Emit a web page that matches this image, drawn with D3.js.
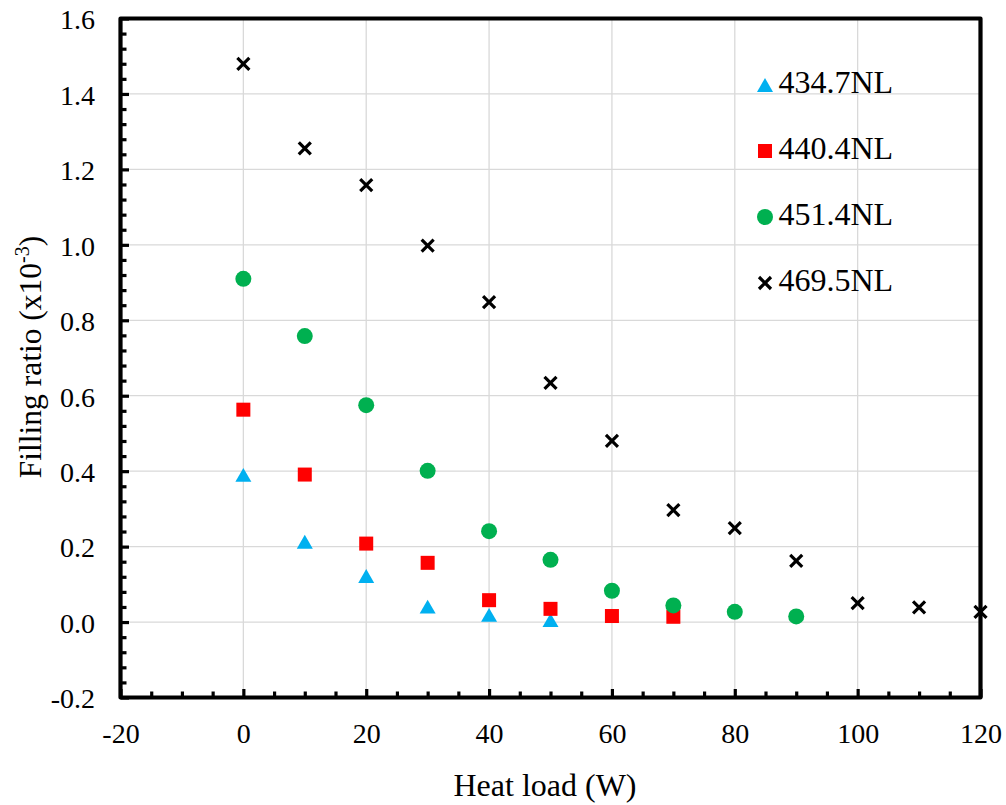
<!DOCTYPE html>
<html>
<head>
<meta charset="utf-8">
<script src="https://cdn.jsdelivr.net/npm/d3@7"></script>
<style>
  html, body { margin: 0; padding: 0; background: #fff; }
  text { font-family: "Liberation Serif", "Times New Roman", serif; fill: #000; }
</style>
</head>
<body>
<svg id="chart" width="1006" height="805"></svg>
<script>
// ---- data ----
const heatLoad = [0, 10, 20, 30, 40, 50, 60, 70, 80, 90, 100, 110, 120];
const seriesNames = ["434.7NL", "440.4NL", "451.4NL", "469.5NL"];
const s434 = [0.390, 0.213, 0.122, 0.041, 0.019, 0.005];
const s440 = [0.563, 0.391, 0.208, 0.157, 0.058, 0.035, 0.016, 0.014];
const s451 = [0.910, 0.758, 0.575, 0.401, 0.241, 0.165, 0.083, 0.044, 0.027, 0.015];
const s469 = [1.480, 1.256, 1.158, 0.998, 0.848, 0.634, 0.480, 0.297, 0.249, 0.162, 0.050, 0.039, 0.027];
const xTicks = [-20, 0, 20, 40, 60, 80, 100, 120];
const yTicks = [-0.2, 0.0, 0.2, 0.4, 0.6, 0.8, 1.0, 1.2, 1.4, 1.6];
const xTickLabels = ["-20", "0", "20", "40", "60", "80", "100", "120"];
const yTickLabels = ["-0.2", "0.0", "0.2", "0.4", "0.6", "0.8", "1.0", "1.2", "1.4", "1.6"];
const xMinor = [-15, -10, -5, 5, 10, 15, 25, 30, 35, 45, 50, 55, 65, 70, 75, 85, 90, 95, 105, 110, 115];
const yMinor = [-0.16, -0.12, -0.08, -0.04, 0.04, 0.08, 0.12, 0.16, 0.24, 0.28, 0.32, 0.36,
  0.44, 0.48, 0.52, 0.56, 0.64, 0.68, 0.72, 0.76, 0.84, 0.88, 0.92, 0.96, 1.04, 1.08, 1.12, 1.16,
  1.24, 1.28, 1.32, 1.36, 1.44, 1.48, 1.52, 1.56];

const series = [
  { name: seriesNames[0], values: s434, shape: "triangle", color: "#00B0F0" },
  { name: seriesNames[1], values: s440, shape: "square", color: "#FF0000" },
  { name: seriesNames[2], values: s451, shape: "circle", color: "#00B050" },
  { name: seriesNames[3], values: s469, shape: "cross", color: "#000000" }
];

// ---- layout ----
const svg = d3.select("#chart");
const x = d3.scaleLinear().domain([-20, 120]).range([120.5, 980.5]);
const y = d3.scaleLinear().domain([-0.2, 1.6]).range([697.5, 18.5]);

// gridlines
const grid = svg.append("g");
grid.selectAll("line.v").data(xTicks.slice(1, -1)).join("line")
  .attr("x1", d => x(d)).attr("x2", d => x(d))
  .attr("y1", y(1.6)).attr("y2", y(-0.2))
  .attr("stroke", "#d9d9d9").attr("stroke-width", 1.3);
grid.selectAll("line.h").data(yTicks.slice(1, -1)).join("line")
  .attr("y1", d => y(d)).attr("y2", d => y(d))
  .attr("x1", x(-20)).attr("x2", x(120))
  .attr("stroke", "#d9d9d9").attr("stroke-width", 1.3);

// axes (ticks pointing inward)
const axisStyle = g => {
  g.select(".domain").remove();
  g.selectAll(".tick line").attr("stroke", "#000").attr("stroke-width", 3.2);
};
svg.append("g").attr("transform", `translate(0,${y(-0.2)})`)
  .call(d3.axisBottom(x).tickValues(xMinor).tickSize(-6).tickFormat(""))
  .call(axisStyle);
svg.append("g").attr("transform", `translate(0,${y(-0.2)})`)
  .call(d3.axisBottom(x).tickValues(xTicks).tickSize(-8.5).tickPadding(0)
    .tickFormat((d, i) => xTickLabels[i]))
  .call(axisStyle)
  .call(g => g.selectAll(".tick text").attr("font-size", 28).attr("dy", null)
    .attr("y", 45).attr("font-family", "Liberation Serif"));
svg.append("g").attr("transform", `translate(${x(-20)},0)`)
  .call(d3.axisLeft(y).tickValues(yMinor).tickSize(-6).tickFormat(""))
  .call(axisStyle);
svg.append("g").attr("transform", `translate(${x(-20)},0)`)
  .call(d3.axisLeft(y).tickValues(yTicks).tickSize(-8.5).tickPadding(0)
    .tickFormat((d, i) => yTickLabels[i]))
  .call(axisStyle)
  .call(g => g.selectAll(".tick text").attr("font-size", 28).attr("x", -25.5)
    .attr("dy", "0.37em").attr("font-family", "Liberation Serif"));

// border
svg.append("rect")
  .attr("x", x(-20)).attr("y", y(1.6))
  .attr("width", x(120) - x(-20)).attr("height", y(-0.2) - y(1.6))
  .attr("fill", "none").attr("stroke", "#000").attr("stroke-width", 4.2)
  .attr("stroke-linejoin", "round");

// markers
function drawMarker(g, shape, color, size) {
  if (shape === "triangle") {
    const h = size * Math.sqrt(3) / 2;
    g.append("path").attr("d", d3.symbol(d3.symbolTriangle, size * size * Math.sqrt(3) / 4)())
      .attr("fill", color).attr("transform", `translate(0,${h / 6})`);
  } else if (shape === "square") {
    g.append("rect").attr("x", -size / 2).attr("y", -size / 2)
      .attr("width", size).attr("height", size).attr("fill", color);
  } else if (shape === "circle") {
    g.append("circle").attr("r", size / 2).attr("fill", color);
  } else {
    const h = size / 2;
    g.append("path").attr("d", `M${-h},${-h}L${h},${h}M${-h},${h}L${h},${-h}`)
      .attr("stroke", color).attr("stroke-width", 3.2).attr("fill", "none");
  }
}
const sizes = { triangle: 16, square: 14, circle: 16, cross: 12 };

series.forEach(s => {
  const g = svg.append("g");
  g.selectAll("g").data(s.values).join("g")
    .attr("transform", (d, i) => `translate(${x(heatLoad[i])},${y(d)})`)
    .each(function () { drawMarker(d3.select(this), s.shape, s.color, sizes[s.shape]); });
});

// legend
const legendY = [85, 151, 217, 283];
series.forEach((s, i) => {
  const g = svg.append("g").attr("transform", `translate(765,${legendY[i]})`);
  drawMarker(g, s.shape, s.color, sizes[s.shape]);
  g.append("text").attr("x", 13.5).attr("y", 8).attr("font-size", 32).text(s.name);
});

// axis titles
svg.append("text").attr("x", 545).attr("y", 796).attr("text-anchor", "middle")
  .attr("font-size", 32).text("Heat load (W)");
const yt = svg.append("text").attr("transform", "translate(41,357) rotate(-90)")
  .attr("text-anchor", "middle").attr("font-size", 31.5);
yt.append("tspan").text("Filling ratio (x10");
yt.append("tspan").attr("font-size", 20).attr("dy", -12).text("-3");
yt.append("tspan").attr("dy", 12).text(")");
</script>
</body>
</html>
